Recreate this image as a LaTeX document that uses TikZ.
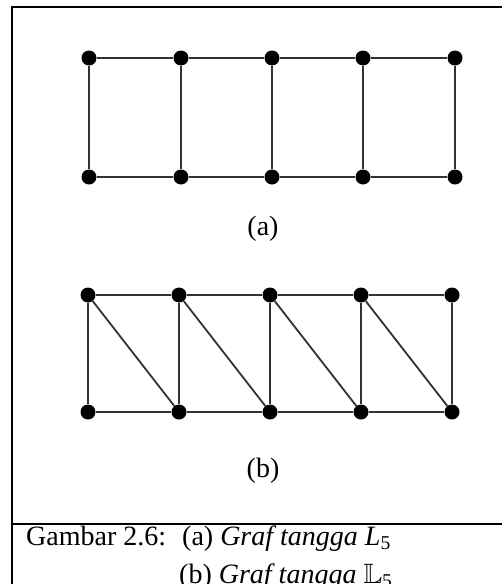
\documentclass[tikz,border=0pt]{standalone}
\usepackage{amssymb}
\usepackage{fontspec}
\setmainfont{Liberation Serif}
\usetikzlibrary{positioning}
\definecolor{EdgeGray}{HTML}{333333}

\tikzset{
  vertex/.style={circle,fill=black,inner sep=0pt,minimum size=15pt},
  edge/.style={draw=EdgeGray,line width=1.8pt},
  frameline/.style={draw=black,line width=1.8pt},
  labeltext/.style={font=\fontsize{28}{33}\selectfont,inner sep=0pt},
}

\begin{document}
\begin{tikzpicture}[x=1pt,y=-1pt]
  \useasboundingbox (0,0) rectangle (502,584);
  \draw[frameline] (502,7) -- (12,7) -- (12,584);
  \draw[frameline] (12,524) -- (502,524);

  % ladder graph (a)
  \foreach \i/\x in {1/89,2/181,3/272,4/363,5/455}{
    \node[vertex] (at\i) at (\x,58) {};
    \node[vertex] (ab\i) at (\x,177) {};
  }
  \foreach \i [count=\j from 2] in {1,...,4}{
    \draw[edge] (at\i) -- (at\j);
    \draw[edge] (ab\i) -- (ab\j);
  }
  \foreach \i in {1,...,5}
    \draw[edge] (at\i) -- (ab\i);
  \node[labeltext] (laba) at (263,229) {(a)};

  % triangular ladder graph (b)
  \foreach \i/\x in {1/88,2/179,3/270,4/361,5/452}{
    \node[vertex] (bt\i) at (\x,295) {};
    \node[vertex] (bb\i) at (\x,412) {};
  }
  \foreach \i [count=\j from 2] in {1,...,4}{
    \draw[edge] (bt\i) -- (bt\j);
    \draw[edge] (bb\i) -- (bb\j);
    \draw[edge] (bt\i) -- (bb\j);
  }
  \foreach \i in {1,...,5}
    \draw[edge] (bt\i) -- (bb\i);
  \node[labeltext] (labb) at (263,471) {(b)};

  % caption
  \node[labeltext,anchor=base west] (capname) at (26,545) {Gambar 2.6:};
  \node[labeltext,anchor=base west] (capa) at (182,545)
    {(a) \textit{Graf tangga L}\textsubscript{5}};
  \node[labeltext,anchor=base west] (capb) at (179,583)
    {(b) \textit{Graf tangga} $\mathbb{L}$\textsubscript{5}};
\end{tikzpicture}
\end{document}
